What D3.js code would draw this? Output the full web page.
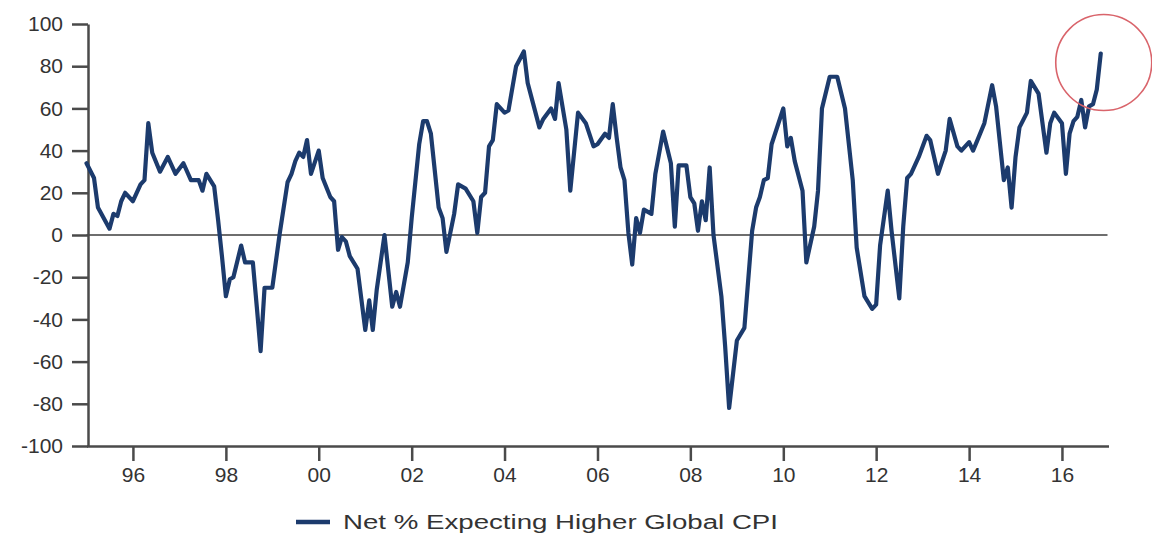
<!DOCTYPE html>
<html>
<head>
<meta charset="utf-8">
<script src="https://cdn.jsdelivr.net/npm/d3@7"></script>
<style>
  body { margin: 0; background: #fff; }
  svg { display: block; }
  text { font-family: "Liberation Sans", Arial, sans-serif; fill: #333; }
</style>
</head>
<body>
<svg id="chart" width="1152" height="541"></svg>
<script>
// Monthly survey readings (net % of respondents expecting higher global CPI)
const months = [
  "1995-01","1995-03","1995-04","1995-07","1995-08","1995-09","1995-10","1995-11",
  "1996-01","1996-03","1996-04","1996-05","1996-06","1996-08","1996-10","1996-12",
  "1997-02","1997-04","1997-06","1997-07","1997-08","1997-10","1997-11","1997-12",
  "1998-01","1998-02","1998-03","1998-05","1998-06","1998-08","1998-09","1998-10",
  "1998-11","1999-01","1999-03","1999-05","1999-06","1999-07","1999-08","1999-09",
  "1999-10","1999-11","2000-01","2000-02","2000-04","2000-05","2000-06","2000-07",
  "2000-08","2000-09","2000-11","2001-01","2001-02","2001-03","2001-04","2001-06",
  "2001-08","2001-09","2001-10","2001-12","2002-01","2002-03","2002-04","2002-05",
  "2002-06","2002-08","2002-09","2002-10","2002-12","2003-01","2003-03","2003-05",
  "2003-06","2003-07","2003-08","2003-09","2003-10","2003-11","2004-01","2004-02",
  "2004-04","2004-06","2004-07","2004-10","2004-11","2005-01","2005-02","2005-03",
  "2005-05","2005-06","2005-08","2005-10","2005-12","2006-01","2006-03","2006-04",
  "2006-05","2006-06","2006-07","2006-08","2006-09","2006-10","2006-11","2006-12",
  "2007-01","2007-03","2007-04","2007-06","2007-08","2007-09","2007-10","2007-12",
  "2008-01","2008-02","2008-03","2008-04","2008-05","2008-06","2008-07","2008-09",
  "2008-10","2008-11","2009-01","2009-03","2009-05","2009-06","2009-07","2009-08",
  "2009-09","2009-10","2010-01","2010-02","2010-03","2010-04","2010-06","2010-07",
  "2010-09","2010-10","2010-11","2011-01","2011-03","2011-05","2011-07","2011-08",
  "2011-10","2011-12","2012-01","2012-02","2012-04","2012-05","2012-07","2012-08",
  "2012-09","2012-10","2012-12","2013-02","2013-03","2013-05","2013-07","2013-08",
  "2013-10","2013-11","2014-01","2014-02","2014-03","2014-05","2014-07","2014-08",
  "2014-10","2014-11","2014-12","2015-01","2015-02","2015-04","2015-05","2015-07",
  "2015-09","2015-10","2015-11","2016-01","2016-02","2016-03","2016-04","2016-05",
  "2016-06","2016-07","2016-08","2016-09","2016-10","2016-11"
];
const netExpectingHigher = [
  34, 27, 13, 3, 10, 9, 16, 20,
  16, 24, 26, 53, 39, 30, 37, 29,
  34, 26, 26, 21, 29, 23, 7, -10,
  -29, -21, -20, -5, -13, -13, -34, -55,
  -25, -25, 1, 25, 29, 35, 39, 37,
  45, 29, 40, 27, 18, 16, -7, -1,
  -3, -10, -16, -45, -31, -45, -26, 0,
  -34, -27, -34, -13, 8, 43, 54, 54,
  48, 13, 8, -8, 10, 24, 22, 16,
  1, 18, 20, 42, 45, 62, 58, 59,
  80, 87, 72, 51, 55, 60, 55, 72,
  50, 21, 58, 53, 42, 43, 48, 46,
  62, 46, 32, 26, 1, -14, 8, 1,
  12, 10, 29, 49, 34, 4, 33, 33,
  18, 15, 2, 16, 7, 32, 0, -29,
  -53, -82, -50, -44, 2, 13, 18, 26,
  27, 43, 60, 42, 46, 35, 21, -13,
  4, 21, 60, 75, 75, 60, 26, -6,
  -29, -35, -33, -5, 21, 2, -30, 4,
  27, 29, 37, 47, 45, 29, 40, 55,
  42, 40, 44, 40, 44, 53, 71, 61,
  26, 32, 13, 37, 51, 58, 73, 67,
  39, 53, 58, 53, 29, 48, 54, 56,
  64, 51, 61, 62, 69, 86
];
const yTickValues = [100, 80, 60, 40, 20, 0, -20, -40, -60, -80, -100];
const xTickYears = [1996, 1998, 2000, 2002, 2004, 2006, 2008, 2010, 2012, 2014, 2016];
const seriesLabel = "Net % Expecting Higher Global CPI";

const parseMonth = d3.timeParse("%Y-%m");
const series = months.map((m, i) => ({ date: parseMonth(m), value: netExpectingHigher[i] }));

const svg = d3.select("#chart");
const lineColor = "#1c3b6d";
const axisColor = "#4a4a4a";

const x = d3.scaleTime()
  .domain([new Date(1995, 0, 1), new Date(2017, 0, 1)])
  .range([86.5, 1108.5]);
const y = d3.scaleLinear().domain([-100, 100]).range([446, 24]);

// zero reference line
svg.append("line")
  .attr("x1", x.range()[0]).attr("x2", x.range()[1] - 1)
  .attr("y1", y(0)).attr("y2", y(0))
  .attr("stroke", "#6e6e6e").attr("stroke-width", 1.8);

// left axis
const yAxis = svg.append("g")
  .attr("transform", `translate(${x.range()[0] + 1.5},0)`)
  .call(d3.axisLeft(y).tickValues(yTickValues).tickSize(16).tickSizeOuter(0).tickPadding(9)
        .tickFormat(d => String(d)));
yAxis.select(".domain").attr("stroke", axisColor).attr("stroke-width", 2.5);
yAxis.selectAll(".tick line").attr("stroke", axisColor).attr("stroke-width", 2.5);
yAxis.selectAll(".tick text").attr("font-size", 21).attr("fill", "#3a3a3a");

// bottom axis
const xAxis = svg.append("g")
  .attr("transform", `translate(0,${y(-100)})`)
  .call(d3.axisBottom(x).tickValues(xTickYears.map(yr => new Date(yr, 0, 1)))
        .tickSize(15).tickSizeOuter(0).tickPadding(6).tickFormat(d3.timeFormat("%y")));
xAxis.select(".domain").attr("stroke", axisColor).attr("stroke-width", 2.5);
xAxis.selectAll(".tick line").attr("stroke", axisColor).attr("stroke-width", 2.5);
xAxis.selectAll(".tick text").attr("font-size", 21).attr("fill", "#3a3a3a");

// survey line
const line = d3.line().x(d => x(d.date)).y(d => y(d.value)).curve(d3.curveLinear);
svg.append("path")
  .datum(series)
  .attr("d", line)
  .attr("fill", "none")
  .attr("stroke", lineColor)
  .attr("stroke-width", 4.2)
  .attr("stroke-linejoin", "round")
  .attr("stroke-linecap", "round");

// highlight ring around the latest reading
const last = series[series.length - 1];
svg.append("circle")
  .attr("cx", x(last.date) + 3).attr("cy", y(last.value) + 9)
  .attr("r", 48)
  .attr("fill", "none")
  .attr("stroke", "#d9646b")
  .attr("stroke-width", 1.6);

// legend
const legend = svg.append("g").attr("transform", "translate(296,522)");
legend.append("line")
  .attr("x1", 0).attr("x2", 34).attr("y1", 0).attr("y2", 0)
  .attr("stroke", lineColor).attr("stroke-width", 4.5);
legend.append("text")
  .attr("x", 47).attr("y", 7)
  .attr("font-size", 20)
  .attr("textLength", 435)
  .attr("lengthAdjust", "spacingAndGlyphs")
  .text(seriesLabel);
</script>
</body>
</html>
